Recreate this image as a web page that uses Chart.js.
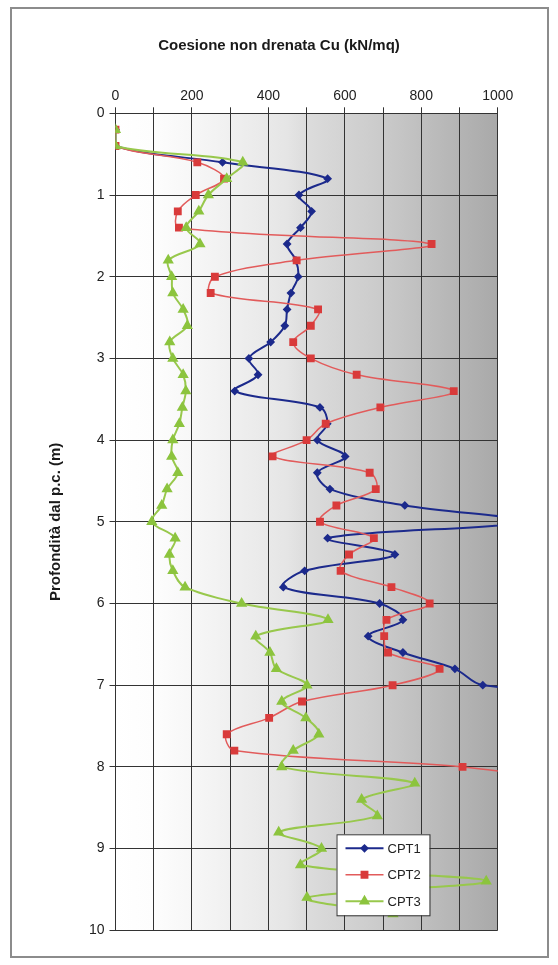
<!DOCTYPE html>
<html>
<head>
<meta charset="utf-8">
<script src="https://cdn.jsdelivr.net/npm/chart.js@4.4.0/dist/chart.umd.min.js"></script>
<style>
  html, body { margin: 0; padding: 0; background: #fff; }
  #wrap { position: relative; width: 558px; height: 965px; }
</style>
</head>
<body>
<div id="wrap"><canvas id="cuChart" width="558" height="965"></canvas></div>
<script>
// depth of each reading (m), shared by the three soundings
const depths = [0.2, 0.4, 0.6, 0.8, 1.0, 1.2, 1.4, 1.6, 1.8, 2.0,
                2.2, 2.4, 2.6, 2.8, 3.0, 3.2, 3.4, 3.6, 3.8, 4.0,
                4.2, 4.4, 4.6, 4.8, 5.0, 5.2, 5.4, 5.6, 5.8, 6.0,
                6.2, 6.4, 6.6, 6.8, 7.0, 7.2, 7.4, 7.6, 7.8, 8.0,
                8.2, 8.4, 8.6, 8.8, 9.0, 9.2, 9.4, 9.6, 9.8];

// Cu (kN/mq) - values above 1000 run off the plot
const cpt1 = [0, 0, 280, 555, 480, 513, 484, 449, 472, 478,
              459, 449, 443, 406, 349, 373, 312, 535, 554, 528,
              601, 528, 561, 757, 1070, 555, 731, 495, 439, 691,
              752, 661, 752, 888, 961, 1600];
const cpt2 = [0, 0, 214, 284, 210, 163, 166, 827, 474, 260,
              249, 530, 511, 465, 511, 631, 885, 693, 550, 500,
              411, 665, 681, 578, 535, 676, 611, 589, 722, 822,
              709, 703, 713, 848, 725, 488, 402, 291, 311, 908,
              1230];
const cpt3 = [0, 0, 333, 291, 243, 218, 185, 221, 138, 147,
              150, 177, 188, 142, 150, 177, 184, 175, 167, 150,
              147, 163, 135, 121, 95, 156, 141, 150, 182, 330,
              556, 367, 404, 421, 501, 435, 498, 532, 465, 435,
              783, 644, 685, 427, 539, 484, 970, 501, 726];

const xLabels = [0, 200, 400, 600, 800, 1000];

const toPoints = vals => vals.map((v, i) => ({ x: v, y: depths[i] }));

const FONT = '"Liberation Sans", Arial, sans-serif';

const plotBackground = {
  id: 'plotBackground',
  beforeDraw(chart) {
    const { ctx, chartArea: a } = chart;
    ctx.save();
    ctx.strokeStyle = '#8c8c8c';
    ctx.lineWidth = 2;
    ctx.strokeRect(11, 8, 537, 949);

    const g = ctx.createLinearGradient(a.left, 0, a.right, 0);
    g.addColorStop(0, '#ffffff');
    g.addColorStop(0.1, '#fdfdfd');
    g.addColorStop(0.2, '#f7f7f7');
    g.addColorStop(0.3, '#f0f0f0');
    g.addColorStop(0.45, '#e5e5e5');
    g.addColorStop(0.5, '#dcdcdc');
    g.addColorStop(0.7, '#cacaca');
    g.addColorStop(1, '#a9a9a9');
    ctx.fillStyle = g;
    ctx.fillRect(a.left, a.top, a.width, a.height);

    ctx.fillStyle = '#1a1a1a';
    ctx.font = 'bold 15px ' + FONT;
    ctx.textAlign = 'center';
    ctx.textBaseline = 'middle';
    ctx.fillText('Coesione non drenata Cu (kN/mq)', 279, 46);
    ctx.restore();
  }
};

const legendBox = {
  id: 'legendBox',
  afterDraw(chart) {
    const { ctx, chartArea: a } = chart;
    const left = a.left + 221, top = a.top + 721;
    ctx.save();
    ctx.fillStyle = '#ffffff';
    ctx.fillRect(left, top, 93, 81);
    ctx.strokeStyle = '#333333';
    ctx.lineWidth = 1;
    ctx.strokeRect(left + 0.5, top + 0.5, 93, 81);
    chart.data.datasets.forEach((ds, i) => {
      const y = top + 14 + i * 26.5;
      ctx.strokeStyle = ds.borderColor;
      ctx.lineWidth = ds.borderWidth;
      ctx.beginPath();
      ctx.moveTo(left + 9, y);
      ctx.lineTo(left + 47, y);
      ctx.stroke();
      ctx.fillStyle = ds.pointBackgroundColor;
      ctx.strokeStyle = ds.pointBorderColor;
      Chart.helpers.drawPoint(ctx, {
        pointStyle: ds.pointStyle, radius: ds.pointRadius, rotation: 0, borderWidth: 1
      }, left + 28, y);
      ctx.fillStyle = '#222222';
      ctx.font = '13px ' + FONT;
      ctx.textAlign = 'left';
      ctx.textBaseline = 'middle';
      ctx.fillText(ds.label, left + 51, y + 1);
    });
    ctx.restore();
  }
};

new Chart(document.getElementById('cuChart'), {
  type: 'line',
  data: {
    datasets: [
      {
        label: 'CPT1',
        data: toPoints(cpt1),
        borderColor: '#1c2a8c',
        borderWidth: 2,
        pointStyle: 'rectRot',
        pointRadius: 3,
        pointBackgroundColor: '#1c2a8c',
        pointBorderColor: '#1c2a8c',
        tension: 0.35,
        order: 3
      },
      {
        label: 'CPT2',
        data: toPoints(cpt2),
        borderColor: '#e25b5b',
        borderWidth: 1.5,
        pointStyle: 'rect',
        pointRadius: 4.5,
        pointBackgroundColor: '#d93b3b',
        pointBorderColor: '#d93b3b',
        tension: 0.35,
        order: 2
      },
      {
        label: 'CPT3',
        data: toPoints(cpt3),
        borderColor: '#98c84c',
        borderWidth: 2,
        pointStyle: 'triangle',
        pointRadius: 4.5,
        pointBackgroundColor: '#8cc43e',
        pointBorderColor: '#8cc43e',
        tension: 0.35,
        order: 1
      }
    ]
  },
  options: {
    responsive: false,
    animation: false,
    events: [],
    layout: { padding: { left: 0, right: 60.3, top: 0, bottom: 34.7 } },
    plugins: {
      legend: { display: false },
      title: { display: false },
      tooltip: { enabled: false }
    },
    scales: {
      x: {
        type: 'linear',
        position: 'top',
        min: 0,
        max: 1000,
        afterFit: s => { s.height = 113.3; },
        ticks: {
          stepSize: 100,
          padding: 3,
          color: '#222222',
          font: { family: FONT, size: 14 },
          callback: v => xLabels.includes(v) ? v : ''
        },
        grid: { color: '#333333', lineWidth: 1, tickLength: 6 },
        border: { color: '#333333', width: 1 }
      },
      y: {
        type: 'linear',
        reverse: true,
        min: 0,
        max: 10,
        afterFit: s => { s.width = 115.5; },
        ticks: {
          stepSize: 1,
          padding: 5,
          color: '#222222',
          font: { family: FONT, size: 14 }
        },
        grid: { color: '#333333', lineWidth: 1, tickLength: 6 },
        border: { color: '#333333', width: 1 },
        title: {
          display: true,
          text: 'Profondità dal p.c. (m)',
          color: '#1a1a1a',
          font: { family: FONT, size: 15, weight: 'bold' },
          padding: { top: 47, bottom: 0 }
        }
      }
    }
  },
  plugins: [plotBackground, legendBox]
});
</script>
</body>
</html>
